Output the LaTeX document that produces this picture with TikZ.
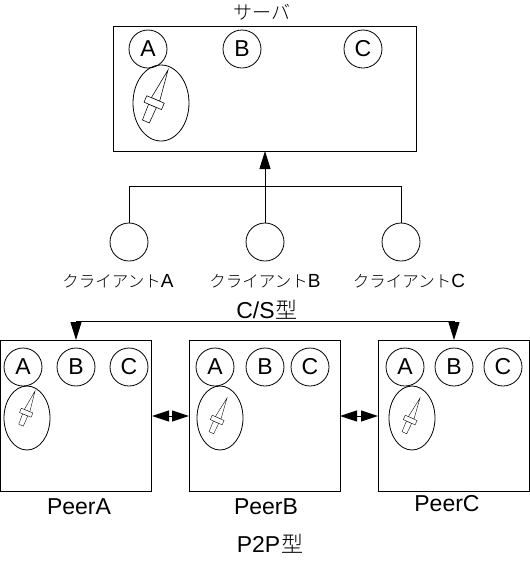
\documentclass[tikz,border=0pt]{standalone}
\usepackage{fontspec}
\setmainfont{Liberation Sans}
\newfontfamily\jpfont{Noto Sans CJK JP Light}
\usetikzlibrary{arrows.meta}
\newcommand{\fs}[1]{\fontsize{#1}{#1}\selectfont}
\newcommand{\daggershape}[4]{%
  \begin{scope}[shift={(#1,#2)},scale=#3,rotate=-#4,line width=#3*0.55pt]
    \draw[fill=white] (0,0) -- (-4.5,32) -- (4.5,32) -- cycle;
    \draw[fill=white] (-4.5,39) -- (-4,56) -- (3.5,56) -- (4,39) -- cycle;
    \draw[fill=white] (-9.5,32) -- (9.5,32) -- (9.5,39) -- (-9.5,39) -- cycle;
  \end{scope}}
\tikzset{
  x=1pt,y=-1pt,
  keycircle/.style={draw,circle,line width=0.8pt,minimum size=38pt,inner sep=0pt,font=\fs{23}},
  wire/.style={line width=1pt},
  headed/.style={wire,-{Triangle[length=18pt,width=11pt]}},
  caption/.style={inner sep=0pt,font=\fs{23}},
  small/.style={inner sep=0pt,font=\fs{19}},
}
\begin{document}
\begin{tikzpicture}
\useasboundingbox (0,0) rectangle (530,563);
\fill[white] (0,0) rectangle (530,563);
% Server
\draw[wire] (113,26) rectangle (416,151);
\coordinate (srvb) at (265,151);
\node[keycircle] (sa) at (148,49) {A};
\node[keycircle] (sb) at (242,49) {B};
\node[keycircle] (sc) at (363,49) {C};
\draw[line width=0.8pt] (161,103) ellipse [x radius=28,y radius=38];
\daggershape{168}{70}{1}{23}
\node[inner sep=0pt,font=\fs{19}\jpfont] (srvl) at (262,12) {サーバ};
% Clients
\node[keycircle] (ca) at (129,242) {};
\node[keycircle] (cb) at (265,242) {};
\node[keycircle] (cc) at (401,242) {};
\coordinate (ja) at (129,186);
\coordinate (jb) at (265,186);
\coordinate (jc) at (401,186);
\draw[wire] (ca) -- (ja) -- (jc) -- (cc);
\draw[headed] (cb) -- (srvb);
\node[small] (la) at (118,281) {{\fs{16.5}\jpfont クライアント}A};
\node[small] (lb) at (265,281) {{\fs{16.5}\jpfont クライアント}B};
\node[small] (lc) at (409,281) {{\fs{16.5}\jpfont クライアント}C};
\node[caption] (cs) at (267,310) {C/S\kern1pt{\jpfont\fs{22}型}};
% Peers
\draw[wire] (0.5,340) rectangle (151,491);
\draw[wire] (189,340) rectangle (340,491);
\draw[wire] (378,340) rectangle (529,491);
\coordinate (pat) at (76,340);
\coordinate (pct) at (454,340);
\coordinate (ta) at (76,321);
\coordinate (tc) at (454,321);
\draw[wire] (ta) -- (tc);
\draw[headed] (ta) -- (pat);
\draw[headed] (tc) -- (pct);
\coordinate (par) at (152,416);
\coordinate (pbl) at (189,416);
\coordinate (pbr) at (340,416);
\coordinate (pcl) at (378,416);
\draw[wire,{Triangle[length=17pt,width=11pt]}-{Triangle[length=17pt,width=11pt]}] (par) -- (pbl);
\draw[wire,{Triangle[length=17pt,width=11pt]}-{Triangle[length=17pt,width=11pt]}] (pbr) -- (pcl);
\foreach \n/\x/\t in {a1/23/A,a2/76/B,a3/129/C,b1/215/A,b2/265/B,b3/310/C,c1/405/A,c2/454/B,c3/503/C}
  \node[keycircle] (\n) at (\x,367) {\t};
\foreach \x in {27,220,412}
  \draw[line width=0.8pt] (\x,418) ellipse [x radius=23,y radius=32];
\daggershape{35}{391}{0.66}{22}
\daggershape{227}{398}{0.68}{24}
\daggershape{420}{398}{0.68}{24}
\node[caption] (pa) at (79,507) {PeerA};
\node[caption] (pb) at (266,507) {PeerB};
\node[caption] (pc) at (447,504) {PeerC};
\node[caption] (p2p) at (270,544) {P2P\kern1pt{\jpfont\fs{22}型}};
\end{tikzpicture}
\end{document}
